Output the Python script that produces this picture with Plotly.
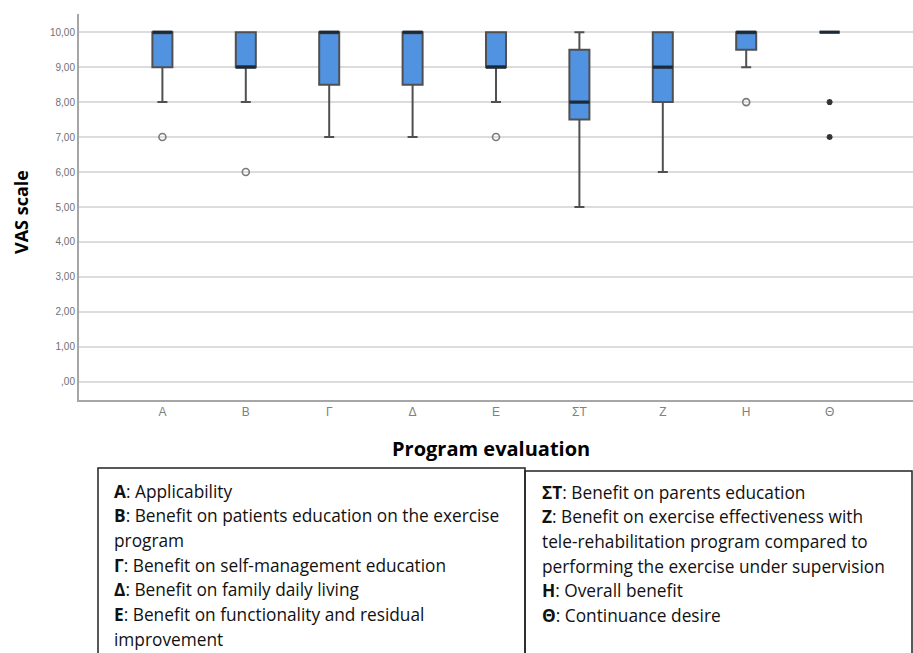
import plotly.graph_objects as go

# ---- data -------------------------------------------------------------
categories = ["Α", "Β", "Γ", "Δ", "Ε", "ΣΤ", "Ζ", "Η", "Θ"]
q1 = [9, 9, 8.5, 8.5, 9, 7.5, 8, 9.5, 10]
median = [10, 9, 10, 10, 9, 8, 9, 10, 10]
q3 = [10, 10, 10, 10, 10, 9.5, 10, 10, 10]
lower_whisker = [8, 8, 7, 7, 8, 5, 6, 9, 10]
upper_whisker = [10, 10, 10, 10, 10, 10, 10, 10, 10]

outlier_cat = ["Α", "Β", "Ε", "Η"]
outlier_val = [7, 6, 7, 8]
extreme_cat = ["Θ", "Θ"]
extreme_val = [8, 7]

y_ticks = [0, 1, 2, 3, 4, 5, 6, 7, 8, 9, 10]
y_ticklabels = [",00", "1,00", "2,00", "3,00", "4,00", "5,00",
                "6,00", "7,00", "8,00", "9,00", "10,00"]

legend_left = [
    "<b>Α</b>: Applicability",
    "<b>Β</b>: Benefit on patients education on the exercise",
    "program",
    "<b>Γ</b>: Benefit on self-management education",
    "<b>Δ</b>: Benefit on family daily living",
    "<b>Ε</b>: Benefit on functionality and residual",
    "improvement",
]
legend_right = [
    "<b>ΣΤ</b>: Benefit on parents education",
    "<b>Ζ</b>: Benefit on exercise effectiveness with",
    "tele-rehabilitation program compared to",
    "performing the exercise under supervision",
    "<b>Η</b>: Overall benefit",
    "<b>Θ</b>: Continuance desire",
]

# ---- geometry ---------------------------------------------------------
W, H = 913, 653
ML, MR, MT, MB = 79, 0, 14, 253
PW, PH = W - ML - MR, H - MT - MB
BOX_W = 0.24

def px_x(px):
    return (px - ML) / PW

def px_y(py):
    return (H - MB - py) / PH

pos = list(range(len(categories)))
cat_pos = {c: i for i, c in enumerate(categories)}

fig = go.Figure()

fig.add_trace(go.Box(
    x=pos, q1=q1, median=median, q3=q3,
    lowerfence=lower_whisker, upperfence=upper_whisker,
    width=BOX_W, whiskerwidth=0.5,
    fillcolor="#5192E1",
    line=dict(color="#505050", width=2),
    boxpoints=False, showlegend=False, hoverinfo="skip",
))

# thick median bars
mx, my = [], []
for i, m in zip(pos, median):
    mx += [i - BOX_W / 2, i + BOX_W / 2, None]
    my += [m, m, None]
fig.add_trace(go.Scatter(
    x=mx, y=my, mode="lines",
    line=dict(color="#1c2a38", width=3.2),
    showlegend=False, hoverinfo="skip",
))

fig.add_trace(go.Scatter(
    x=[cat_pos[c] for c in outlier_cat], y=outlier_val, mode="markers",
    marker=dict(symbol="circle-open", size=7, color="#7a7a7a",
                line=dict(width=1.6, color="#7a7a7a")),
    showlegend=False, hoverinfo="skip",
))
fig.add_trace(go.Scatter(
    x=[cat_pos[c] for c in extreme_cat], y=extreme_val, mode="markers",
    marker=dict(symbol="asterisk-open", size=5, color="#333333",
                line=dict(width=1.8, color="#333333")),
    showlegend=False, hoverinfo="skip",
))

fig.update_layout(
    width=W, height=H,
    margin=dict(l=ML, r=MR, t=MT, b=MB),
    plot_bgcolor="white", paper_bgcolor="white",
    xaxis=dict(
        range=[-1, 9], tickmode="array", tickvals=pos, ticktext=categories,
        showgrid=False, zeroline=False, showline=True,
        linecolor="#a6a6a6", linewidth=2, ticks="",
        tickfont=dict(family="Liberation Sans", size=12, color="#808080"),
    ),
    yaxis=dict(
        range=[-0.52, 10.52], tickmode="array", tickvals=y_ticks,
        ticktext=y_ticklabels, showgrid=True, gridcolor="#dcdcdc",
        gridwidth=1.6, zeroline=False, showline=True,
        linecolor="#a6a6a6", linewidth=2, ticks="",
        tickfont=dict(family="Liberation Sans", size=10, color="#707070"),
    ),
    font=dict(family="Open Sans"),
)

annotations = [
    dict(text="<b>VAS scale</b>", x=px_x(21), y=px_y(212), xref="paper",
         yref="paper", textangle=-90, showarrow=False,
         font=dict(family="Open Sans", size=18, color="black"),
         xanchor="center", yanchor="middle"),
    dict(text="<b>Program evaluation</b>", x=px_x(491), y=px_y(448),
         xref="paper", yref="paper", showarrow=False,
         font=dict(family="Open Sans", size=20, color="black"),
         xanchor="center", yanchor="middle"),
]

LINE_H = 24.7
LEGEND_FONT = dict(family="Open Sans", size=17.3, color="#111111")
for k, t in enumerate(legend_left):
    annotations.append(dict(
        text=t, x=px_x(112), y=px_y(491 + k * LINE_H), xref="paper",
        yref="paper", showarrow=False, xanchor="left", yanchor="middle",
        font=LEGEND_FONT))
for k, t in enumerate(legend_right):
    annotations.append(dict(
        text=t, x=px_x(540), y=px_y(492 + k * LINE_H), xref="paper",
        yref="paper", showarrow=False, xanchor="left", yanchor="middle",
        font=LEGEND_FONT))
fig.update_layout(annotations=annotations)

shapes = [
    dict(type="rect", xref="paper", yref="paper",
         x0=px_x(98), x1=px_x(525), y0=px_y(468), y1=px_y(660),
         line=dict(color="#222222", width=1.5)),
    dict(type="rect", xref="paper", yref="paper",
         x0=px_x(525), x1=px_x(912), y0=px_y(471), y1=px_y(660),
         line=dict(color="#222222", width=1.5)),
]
fig.update_layout(shapes=shapes)

fig.write_html("out.html")
